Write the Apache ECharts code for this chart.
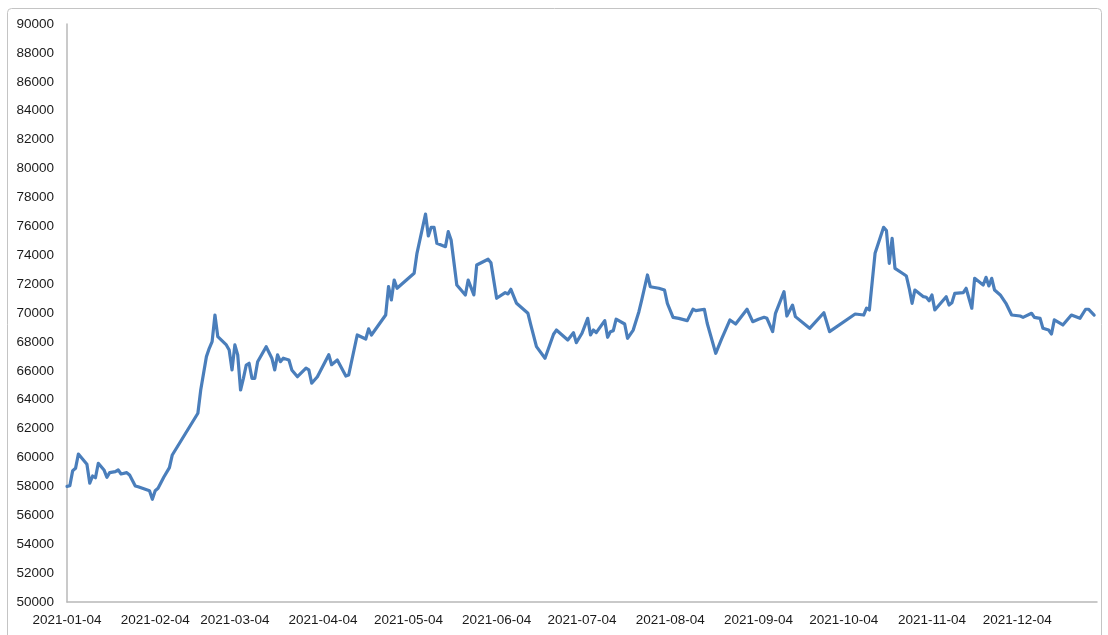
<!DOCTYPE html>
<html>
<head>
<meta charset="utf-8">
<script src="https://cdn.jsdelivr.net/npm/echarts@6/dist/echarts.min.js"></script>
<style>
html,body{margin:0;padding:0;background:#fff;}
#chart{width:1108px;height:635px;}
</style>
</head>
<body>
<div id="chart"></div>
<script>
var dates = [
'2021-01-04','2021-01-05','2021-01-06','2021-01-07','2021-01-08','2021-01-11','2021-01-12','2021-01-13','2021-01-14','2021-01-15',
'2021-01-17','2021-01-18','2021-01-19','2021-01-21','2021-01-22','2021-01-23','2021-01-25','2021-01-26','2021-01-28','2021-01-29',
'2021-02-02','2021-02-03','2021-02-04','2021-02-05','2021-02-07','2021-02-09','2021-02-10','2021-02-19','2021-02-20','2021-02-22',
'2021-02-23','2021-02-24','2021-02-25','2021-02-26','2021-03-01','2021-03-02','2021-03-03','2021-03-04','2021-03-05','2021-03-06',
'2021-03-07','2021-03-08','2021-03-09','2021-03-10','2021-03-11','2021-03-12','2021-03-15','2021-03-17','2021-03-18','2021-03-19',
'2021-03-20','2021-03-21','2021-03-23','2021-03-24','2021-03-26','2021-03-29','2021-03-30','2021-03-31','2021-04-02','2021-04-06',
'2021-04-07','2021-04-09','2021-04-12','2021-04-13','2021-04-16','2021-04-19','2021-04-20','2021-04-21','2021-04-26','2021-04-27',
'2021-04-28','2021-04-29','2021-04-30','2021-05-06','2021-05-07','2021-05-10','2021-05-11','2021-05-12','2021-05-13','2021-05-14',
'2021-05-17','2021-05-18','2021-05-19','2021-05-21','2021-05-24','2021-05-25','2021-05-27','2021-05-28','2021-06-01','2021-06-02',
'2021-06-04','2021-06-07','2021-06-08','2021-06-09','2021-06-11','2021-06-15','2021-06-16','2021-06-18','2021-06-21','2021-06-24',
'2021-06-25','2021-06-29','2021-07-01','2021-07-02','2021-07-04','2021-07-06','2021-07-07','2021-07-08','2021-07-09','2021-07-12',
'2021-07-13','2021-07-14','2021-07-15','2021-07-16','2021-07-19','2021-07-20','2021-07-22','2021-07-24','2021-07-25','2021-07-27',
'2021-07-28','2021-07-31','2021-08-02','2021-08-03','2021-08-05','2021-08-07','2021-08-10','2021-08-12','2021-08-13','2021-08-16',
'2021-08-17','2021-08-20','2021-08-22','2021-08-25','2021-08-27','2021-08-31','2021-09-02','2021-09-04','2021-09-06','2021-09-07',
'2021-09-09','2021-09-10','2021-09-13','2021-09-14','2021-09-16','2021-09-17','2021-09-22','2021-09-27','2021-09-29','2021-10-08',
'2021-10-11','2021-10-12','2021-10-13','2021-10-15','2021-10-18','2021-10-19','2021-10-20','2021-10-21','2021-10-22','2021-10-25',
'2021-10-26','2021-10-27','2021-10-28','2021-10-29','2021-11-01','2021-11-02','2021-11-03','2021-11-04','2021-11-05','2021-11-09',
'2021-11-10','2021-11-11','2021-11-12','2021-11-15','2021-11-16','2021-11-18','2021-11-19','2021-11-22','2021-11-23','2021-11-24',
'2021-11-25','2021-11-26','2021-11-28','2021-11-30','2021-12-02','2021-12-05','2021-12-06','2021-12-09','2021-12-10','2021-12-12',
'2021-12-13','2021-12-15','2021-12-16','2021-12-17','2021-12-20','2021-12-23','2021-12-26','2021-12-28','2021-12-29','2021-12-31'
];
var values = [
58000,58050,59090,59250,60240,59530,58220,58720,58600,59600,
59140,58630,58950,59020,59140,58860,58950,58790,58030,57980,
57700,57110,57700,57870,58630,59300,60175,63060,64670,66980,
67560,68020,69860,68360,67790,67440,66060,67790,67100,64670,
65480,66400,66520,65480,65480,66630,67670,66870,66060,67110,
66630,66870,66750,66060,65590,66180,66060,65140,65590,67110,
66420,66750,65640,65710,68480,68200,68900,68480,69860,71820,
70900,72280,71710,72750,74130,76850,75330,75930,75930,74820,
74590,75630,75050,71940,71250,72280,71250,73320,73720,73480,
71020,71410,71320,71640,70670,69980,69170,67670,66870,68530,
68820,68130,68640,67950,68600,69630,68480,68820,68640,69470,
68320,68710,68780,69570,69240,68250,68820,70090,70900,72630,
71820,71710,71590,70670,69700,69630,69470,70260,70160,70260,
69290,67210,68180,69520,69240,70260,69400,69570,69700,69630,
68710,69980,71480,69790,70550,69750,68940,70020,68710,69930,
69860,70330,70210,74130,75930,75700,73440,75170,73090,72700,
72560,71710,70670,71590,71130,71090,70850,71250,70210,71130,
70550,70710,71360,71410,71710,70330,72400,71940,72470,71870,
72400,71590,71250,70670,69860,69790,69700,69980,69700,69630,
68940,68820,68550,69520,69170,69860,69630,70260,70260,69860
];
var tickLabels = ['2021-01-04','2021-02-04','2021-03-04','2021-04-04','2021-05-04','2021-06-04',
  '2021-07-04','2021-08-04','2021-09-04','2021-10-04','2021-11-04','2021-12-04'];
var xMin = '2021-01-04', xMax = '2022-01-01';

function toTime(s){ var p = s.split('-'); return Date.UTC(+p[0], +p[1]-1, +p[2]); }
function pad(n){ return (n<10?'0':'')+n; }
function fmt(t){ var d = new Date(t); return d.getUTCFullYear()+'-'+pad(d.getUTCMonth()+1)+'-'+pad(d.getUTCDate()); }

var seriesData = dates.map(function(d,i){ return [toTime(d), values[i]]; });
var font = '"Liberation Sans", Arial, sans-serif';

var chart = echarts.init(document.getElementById('chart'), null, {renderer:'canvas'});
chart.setOption({
  animation:false,
  backgroundColor:'#ffffff',
  graphic:[{type:'rect', shape:{x:7.5,y:8.5,width:1094,height:660,r:4}, style:{fill:null, stroke:'#c4c4c4', lineWidth:1}, silent:true, z:-1}],
  grid:{left:67, top:24, right:11, bottom:33, containLabel:false},
  xAxis:{
    type:'value', min:toTime(xMin), max:toTime(xMax), scale:true,
    splitLine:{show:false},
    axisLine:{show:true, onZero:false, lineStyle:{color:'#b8b8b8', width:1.5}},
    axisTick:{show:false},
    axisLabel:{customValues:tickLabels.map(toTime), formatter:function(v){return fmt(v);},
      color:'#1a1a1a', fontSize:13.5, fontFamily:font, margin:11, hideOverlap:false}
  },
  yAxis:{
    type:'value', min:50000, max:90000, interval:2000,
    splitLine:{show:false},
    axisLine:{show:true, onZero:false, lineStyle:{color:'#b8b8b8', width:1.5}},
    axisTick:{show:false},
    axisLabel:{color:'#1a1a1a', fontSize:13.5, fontFamily:font, margin:13, formatter:function(v){return String(v);}}
  },
  series:[{
    type:'line', data:seriesData, showSymbol:false, smooth:false,
    lineStyle:{color:'#4a7ebb', width:3.2, join:'round', cap:'round'},
    itemStyle:{color:'#4a7ebb'}
  }]
});
</script>
</body>
</html>
